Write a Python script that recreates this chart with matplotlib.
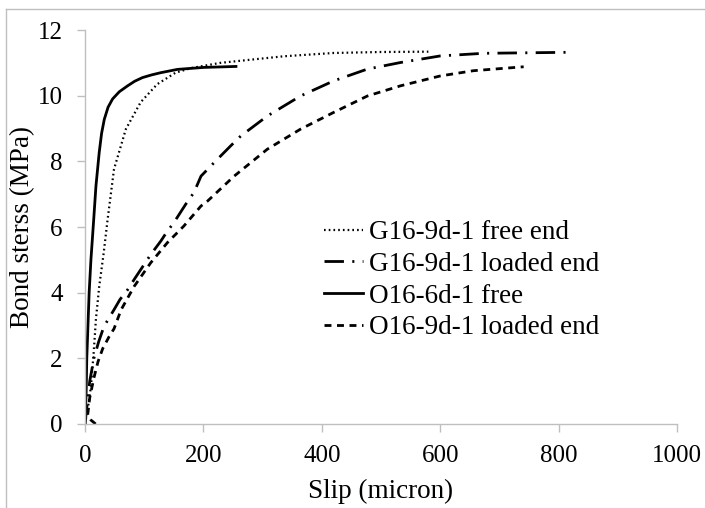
import matplotlib
matplotlib.use("Agg")
import matplotlib.pyplot as plt
from matplotlib.lines import Line2D

plt.rcParams["font.family"] = ["Liberation Serif", "DejaVu Serif"]
plt.rcParams["lines.scale_dashes"] = False

# slip (micron), bond stress (MPa)
g_free_x = [0, 5, 10, 14.6, 18.5, 24, 31.5, 38, 49, 69, 94, 122, 153, 179, 229, 336, 420, 500, 580]
g_free_y = [0, 0.5, 1.13, 2.16, 3.2, 4.19, 5.2, 6.2, 7.76, 8.98, 9.8, 10.35, 10.7, 10.84, 11.0, 11.2, 11.3, 11.33, 11.34]

g_load_x = [0, 3, 8, 15, 23, 32, 49, 59, 72, 83, 111, 128, 139, 150, 170, 184, 196, 218, 246,
            263, 308, 364, 420, 477, 533, 600, 673, 814]
g_load_y = [0, 0.5, 1.3, 2.0, 2.5, 2.97, 3.48, 3.79, 4.09, 4.4, 5.16, 5.57, 5.87, 6.13, 6.69, 7.05, 7.55,
            7.96, 8.47, 8.77, 9.38, 9.99, 10.45, 10.81, 11.01, 11.21, 11.29, 11.32]

o_free_x = [0, 2, 3, 5, 7, 10, 14.6, 18.5, 24, 28, 32.6, 39, 46.6, 58, 72, 84, 97, 112, 128, 156, 200, 255]
o_free_y = [0, 1, 2, 3, 4, 5, 6.2, 7.25, 8.27, 8.85, 9.28, 9.65, 9.9, 10.12, 10.3, 10.44, 10.55, 10.63,
            10.7, 10.8, 10.86, 10.89]

o_load_x = [18, 10, 4.5, 8, 15, 22, 30, 41, 49, 61, 83, 111, 139, 167, 196, 207, 252, 308, 364,
            420, 477, 533, 600, 656, 741]
o_load_y = [0, 0.12, 0.27, 0.8, 1.4, 1.9, 2.3, 2.67, 2.9, 3.48, 4.19, 4.91, 5.52, 6.03, 6.64, 6.79,
            7.55, 8.37, 8.98, 9.49, 9.99, 10.3, 10.6, 10.76, 10.88]

labels = ["G16-9d-1 free end", "G16-9d-1 loaded end", "O16-6d-1 free", "O16-9d-1 loaded end"]

GRAY = "#bfbfbf"
TICK_FS = 18
LAB_FS = 19.5

fig = plt.figure(figsize=(7.05, 5.08), dpi=100)
ax = fig.add_axes([85 / 705, 1 - 424 / 508, 592 / 705, 394 / 508])

ax.plot(g_free_x, g_free_y, color="black", lw=1.6, ls=(0, (1.2, 2.2)), label=labels[0])
ax.plot(g_load_x, g_load_y, color="black", lw=2.0, ls=(0, (14, 6, 1.5, 6)), label=labels[1])
ax.plot(o_free_x, o_free_y, color="black", lw=2.0, ls="-", label=labels[2])
ax.plot(o_load_x, o_load_y, color="black", lw=2.0, ls=(0, (5, 4)), label=labels[3])

ax.set_xlim(0, 1000)
ax.set_ylim(0, 12)
ax.set_xticks(range(0, 1001, 200))
ax.set_yticks(range(0, 13, 2))
ax.tick_params(axis="both", direction="out", length=6, width=1, color=GRAY,
               labelsize=TICK_FS)
ax.tick_params(axis="y", pad=10)
ax.tick_params(axis="x", pad=9)
for sp in ["top", "right"]:
    ax.spines[sp].set_visible(False)
for sp in ["left", "bottom"]:
    ax.spines[sp].set_color(GRAY)
    ax.spines[sp].set_linewidth(1)

ax.set_xlabel("Slip (micron)", fontsize=LAB_FS, labelpad=9)
ax.set_ylabel("Bond sterss (MPa)", fontsize=LAB_FS, labelpad=2)

ax.legend(loc="upper left", bbox_to_anchor=((324 - 85) / 592, (424 - 220) / 394),
          frameon=False, fontsize=LAB_FS, handlelength=1.45, handletextpad=0.2,
          labelspacing=0.25, borderpad=0, borderaxespad=0)

# outer chart-area frame (left and top edges visible in the reference)
fig.add_artist(Line2D([6 / 705, 6 / 705], [0, 1 - 9 / 508], color=GRAY, lw=1))
fig.add_artist(Line2D([6 / 705, 1], [1 - 9 / 508, 1 - 9 / 508], color=GRAY, lw=1))

fig.savefig("out.png", dpi=100, facecolor="white")
